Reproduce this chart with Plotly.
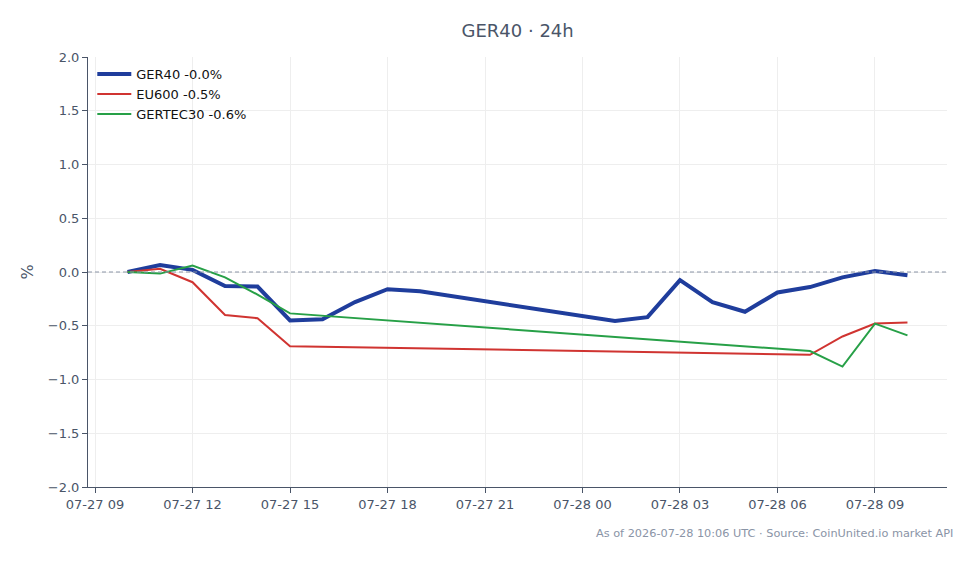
import plotly.graph_objects as go

ger40_t = ["2026-07-27 10:00", "2026-07-27 11:00", "2026-07-27 12:00", "2026-07-27 13:00",
           "2026-07-27 14:00", "2026-07-27 15:00", "2026-07-27 16:00", "2026-07-27 17:00",
           "2026-07-27 18:00", "2026-07-27 19:00", "2026-07-28 01:00", "2026-07-28 02:00",
           "2026-07-28 03:00", "2026-07-28 04:00", "2026-07-28 05:00", "2026-07-28 06:00",
           "2026-07-28 07:00", "2026-07-28 08:00", "2026-07-28 09:00", "2026-07-28 10:00"]
ger40_v = [0.0, 0.065, 0.02, -0.13, -0.135, -0.45, -0.44, -0.28, -0.16, -0.18,
           -0.455, -0.42, -0.075, -0.28, -0.37, -0.19, -0.14, -0.05, 0.01, -0.03]

eu600_t = ["2026-07-27 10:00", "2026-07-27 11:00", "2026-07-27 12:00", "2026-07-27 13:00",
           "2026-07-27 14:00", "2026-07-27 15:00", "2026-07-28 07:00", "2026-07-28 08:00",
           "2026-07-28 09:00", "2026-07-28 10:00"]
eu600_v = [0.0, 0.03, -0.095, -0.40, -0.43, -0.69, -0.77, -0.60, -0.48, -0.47]

gertec_t = ["2026-07-27 10:00", "2026-07-27 11:00", "2026-07-27 12:00", "2026-07-27 13:00",
            "2026-07-27 14:00", "2026-07-27 15:00", "2026-07-28 07:00", "2026-07-28 08:00",
            "2026-07-28 09:00", "2026-07-28 10:00"]
gertec_v = [0.0, -0.015, 0.06, -0.05, -0.21, -0.385, -0.735, -0.88, -0.48, -0.59]

names = ["GER40 -0.0%", "EU600 -0.5%", "GERTEC30 -0.6%"]
colors = ["#1f3d9c", "#d03431", "#27a047"]
widths = [4, 2, 2]
y_ticks = [-2.0, -1.5, -1.0, -0.5, 0.0, 0.5, 1.0, 1.5, 2.0]

fig = go.Figure()
for t, v, n, c, w in zip([ger40_t, eu600_t, gertec_t], [ger40_v, eu600_v, gertec_v], names, colors, widths):
    fig.add_trace(go.Scatter(x=t, y=v, mode="lines", name=n, line=dict(color=c, width=w)))

fig.add_hline(y=0, line=dict(color="#8a94a6", width=1, dash="4px,3px"))

axis_col = "#4a5568"
fig.update_layout(
    width=979, height=564,
    margin=dict(l=88, r=32, t=57, b=77),
    paper_bgcolor="white", plot_bgcolor="white",
    font=dict(family="DejaVu Sans", size=13, color=axis_col),
    title=dict(text="GER40 · 24h", x=0.5287, xanchor="center", y=0.957, yanchor="top",
               font=dict(size=18, color=axis_col)),
    showlegend=True,
    legend=dict(x=0.005, y=0.995, xanchor="left", yanchor="top", bgcolor="rgba(255,255,255,0)",
                font=dict(size=13, color="#111111"), tracegroupgap=0, itemwidth=34),
    xaxis=dict(type="date", range=["2026-07-27 08:47", "2026-07-28 11:13"],
               dtick=3 * 3600 * 1000, tick0="2026-07-27 00:00", tickformat="%m-%d %H",
               showgrid=True, gridcolor="#eeeeee", showline=True, linecolor=axis_col,
               ticks="outside", ticklen=5, tickcolor=axis_col, zeroline=False,
               tickfont=dict(size=13, color=axis_col)),
    yaxis=dict(range=[-2, 2], tickvals=y_ticks, tickformat=".1f",
               showgrid=True, gridcolor="#eeeeee", showline=True, linecolor=axis_col,
               ticks="outside", ticklen=5, tickcolor=axis_col, zeroline=False,
               title=dict(text="%", standoff=10), tickfont=dict(size=13, color=axis_col)),
    annotations=[dict(text="As of 2026-07-28 10:06 UTC · Source: CoinUnited.io market API",
                      xref="paper", yref="paper", x=1.0095, y=-0.107, xanchor="right", yanchor="middle",
                      showarrow=False, font=dict(size=11.3, color="#8a94a6"))],
)

fig.write_html("out.html")
